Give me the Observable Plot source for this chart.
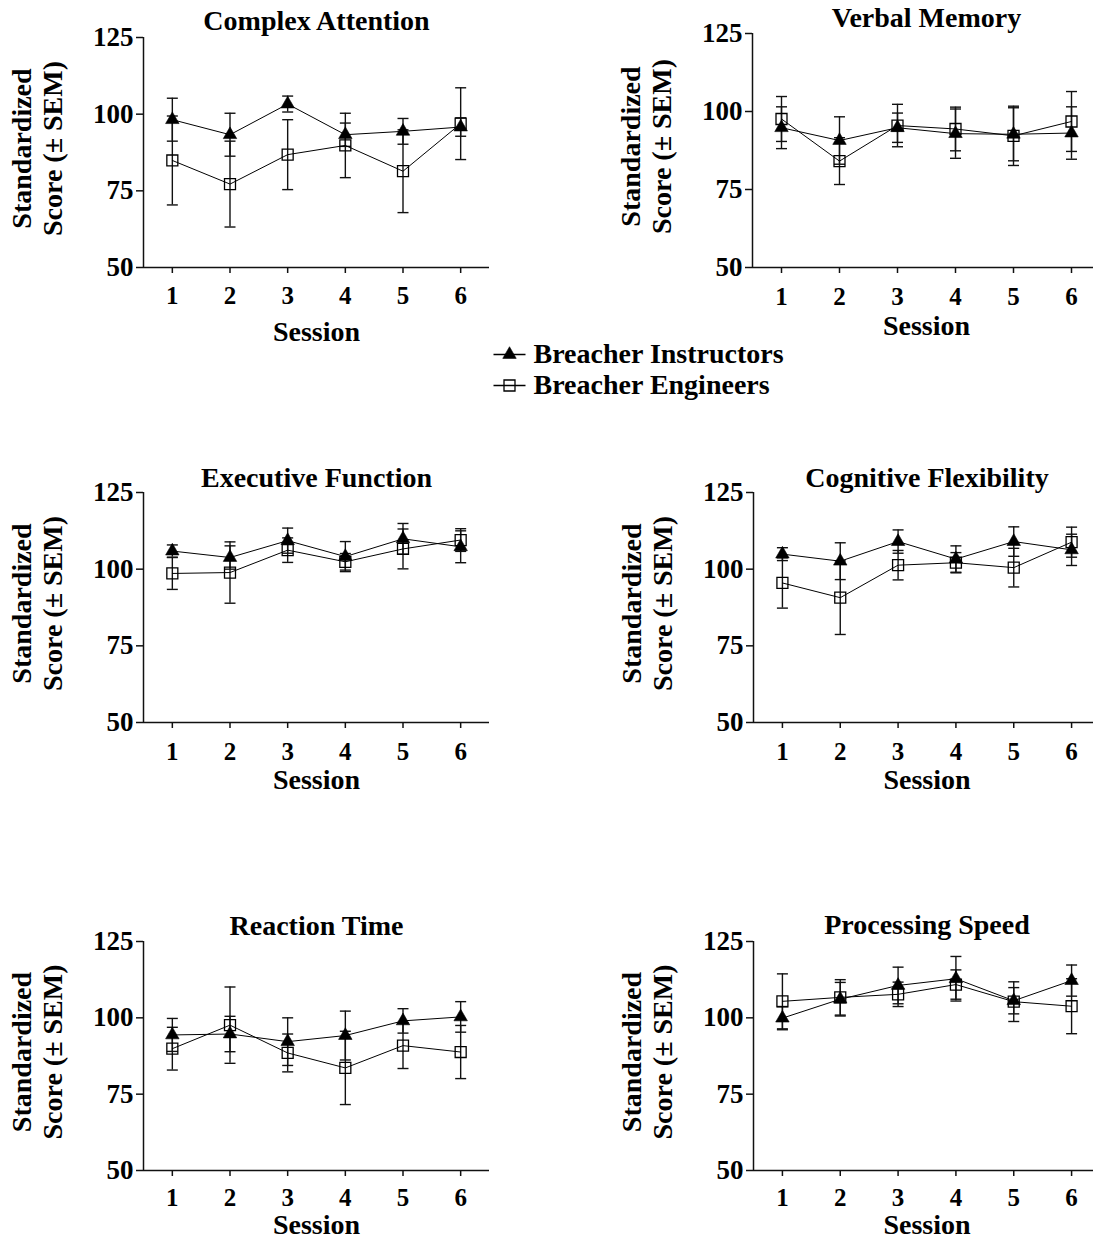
<!DOCTYPE html>
<html>
<head>
<meta charset="utf-8">
<script src="https://cdn.jsdelivr.net/npm/d3@7"></script>
<script src="https://cdn.jsdelivr.net/npm/@observablehq/plot@0.6"></script>
<style>
  html, body { margin: 0; padding: 0; background: white; overflow: hidden; }
  #page { position: relative; width: 1093px; height: 1241px; overflow: hidden; background: white; }
  #page > svg { position: absolute; }
</style>
</head>
<body>
<div id="page"></div>
<script>
// ---------------- data ----------------
const sessions = [1, 2, 3, 4, 5, 6];
const groups = ["Breacher Instructors", "Breacher Engineers"];
const panelTitles = ["Complex Attention", "Verbal Memory", "Executive Function",
                     "Cognitive Flexibility", "Reaction Time", "Processing Speed"];
const yTicks = [50, 75, 100, 125];
const yLabel = "Standardized\nScore (\u00B1 SEM)";
const xLabel = "Session";

// Complex Attention
const caInstMean = [98.2, 93.3, 103.3, 93.3, 94.4, 95.8];
const caInstSem  = [7.0, 7.0, 2.6, 3.8, 4.2, 3.0];
const caEngMean  = [84.9, 77.2, 86.8, 89.8, 81.4, 96.9];
const caEngSem   = [14.5, 14.0, 11.4, 10.5, 13.5, 11.7];
// Verbal Memory
const vmInstMean = [94.8, 90.7, 94.8, 92.9, 92.7, 93.1];
const vmInstSem  = [6.7, 7.6, 4.7, 7.9, 8.5, 8.4];
const vmEngMean  = [97.6, 84.1, 95.5, 94.4, 92.2, 96.8];
const vmEngSem   = [7.2, 7.5, 6.8, 7.0, 9.5, 9.6];
// Executive Function
const efInstMean = [105.9, 103.8, 109.3, 104.1, 109.9, 107.3];
const efInstSem  = [2.0, 3.8, 4.1, 4.9, 5.0, 5.2];
const efEngMean  = [98.6, 98.9, 106.2, 102.4, 106.6, 109.5];
const efEngSem   = [5.2, 10.0, 4.0, 2.7, 6.5, 3.7];
// Cognitive Flexibility
const cfInstMean = [104.9, 102.6, 109.0, 103.3, 109.0, 106.3];
const cfInstSem  = [2.1, 6.0, 3.8, 4.3, 4.8, 5.1];
const cfEngMean  = [95.5, 90.7, 101.3, 102.1, 100.5, 108.8];
const cfEngSem   = [8.2, 12.0, 4.8, 3.3, 6.3, 4.9];
// Reaction Time
const rtInstMean = [94.4, 94.7, 92.2, 94.2, 99.0, 100.3];
const rtInstSem  = [5.4, 5.8, 7.8, 8.0, 4.0, 5.0];
const rtEngMean  = [89.9, 97.6, 88.5, 83.6, 90.9, 88.8];
const rtEngSem   = [7.0, 12.5, 6.2, 12.0, 7.5, 8.7];
// Processing Speed
const psInstMean = [99.9, 106.1, 110.6, 112.8, 105.6, 112.2];
const psInstSem  = [3.8, 5.5, 6.0, 7.3, 4.3, 5.1];
const psEngMean  = [105.4, 106.7, 107.7, 110.9, 105.3, 103.8];
const psEngSem   = [9.0, 5.8, 4.0, 4.8, 6.5, 9.0];

const panelData = [
  [[caInstMean, caInstSem], [caEngMean, caEngSem]],
  [[vmInstMean, vmInstSem], [vmEngMean, vmEngSem]],
  [[efInstMean, efInstSem], [efEngMean, efEngSem]],
  [[cfInstMean, cfInstSem], [cfEngMean, cfEngSem]],
  [[rtInstMean, rtInstSem], [rtEngMean, rtEngSem]],
  [[psInstMean, psInstSem], [psEngMean, psEngSem]]
];

// ---------------- layout (page pixels) ----------------
const layout = [
  {left: 0,   axisX: 143, right: 489,  top: 37,  bottom: 267,  titleBase: 29,  tickBase: 303,  labelBase: 340},
  {left: 600, axisX: 752, right: 1100, top: 33,  bottom: 267,  titleBase: 26,  tickBase: 304,  labelBase: 334},
  {left: 0,   axisX: 143, right: 489,  top: 492, bottom: 722,  titleBase: 486, tickBase: 759,  labelBase: 788},
  {left: 600, axisX: 753, right: 1100, top: 492, bottom: 722,  titleBase: 486, tickBase: 759,  labelBase: 788},
  {left: 0,   axisX: 143, right: 489,  top: 941, bottom: 1170, titleBase: 934, tickBase: 1205, labelBase: 1233},
  {left: 600, axisX: 753, right: 1100, top: 941, bottom: 1170, titleBase: 933, tickBase: 1205, labelBase: 1233}
];

const FONT = "'Liberation Serif', 'Times New Roman', Times, serif";
const INK = "#111";
const hLine = (half) => ({
  draw(context) { context.moveTo(-half, 0); context.lineTo(half, 0); }
});
const capSym = hLine(5.5);

const page = document.getElementById("page");

panelTitles.forEach((title, p) => {
  const L = layout[p];
  const mt = 50, mb = 80, mr = 10;
  const rows = groups.flatMap((g, gi) => sessions.map((s, i) => ({
    group: g, session: s, mean: panelData[p][gi][0][i], sem: panelData[p][gi][1][i]
  })));
  const inst = rows.filter(d => d.group === groups[0]);
  const eng = rows.filter(d => d.group === groups[1]);
  const lo = d => d.mean - d.sem;
  const hi = d => d.mean + d.sem;
  const xFont = 25;

  const chart = Plot.plot({
    width: L.right - L.left + mr,
    height: mt + (L.bottom - L.top) + mb,
    marginLeft: L.axisX - L.left,
    marginRight: mr,
    marginTop: mt,
    marginBottom: mb,
    x: {domain: [0.5, 6.5]},
    y: {domain: [50, 125]},
    style: {fontFamily: FONT, fontWeight: "bold", fontSize: "26px", color: "black",
            background: "transparent", overflow: "visible"},
    marks: [
      Plot.axisY({ticks: yTicks, tickSize: 7, tickPadding: 3, fontSize: 27, fontWeight: "bold",
                  tickFormat: d => String(d), label: null, strokeWidth: 1.5, stroke: INK}),
      Plot.axisX({ticks: sessions, tickSize: 6, fontSize: xFont, fontWeight: "bold",
                  tickFormat: d => String(d),
                  tickPadding: L.tickBase - L.bottom - 6 - 0.71 * xFont,
                  label: null, strokeWidth: 1.5, stroke: INK}),
      Plot.ruleY([50], {stroke: INK, strokeWidth: 1.5}),
      Plot.ruleX([0.5], {stroke: INK, strokeWidth: 1.5}),
      Plot.ruleX(rows, {x: "session", y1: lo, y2: hi, stroke: INK, strokeWidth: 1.4}),
      Plot.dot(rows, {x: "session", y: lo, symbol: capSym, r: 1, fill: "none", stroke: INK, strokeWidth: 1.4}),
      Plot.dot(rows, {x: "session", y: hi, symbol: capSym, r: 1, fill: "none", stroke: INK, strokeWidth: 1.4}),
      Plot.line(rows, {x: "session", y: "mean", z: "group", stroke: "black", strokeWidth: 1}),
      Plot.dot(eng, {x: "session", y: "mean", symbol: "square", r: 6.2, fill: "none", stroke: "black", strokeWidth: 1.3}),
      Plot.dot(inst, {x: "session", y: "mean", symbol: "triangle", r: 5, fill: "black", stroke: "black", strokeWidth: 0.6}),
      Plot.text([title], {text: d => d, frameAnchor: "top", lineAnchor: "bottom",
                          dy: L.titleBase - L.top, fontSize: 28, fontWeight: "bold"}),
      Plot.text([xLabel], {text: d => d, frameAnchor: "bottom", lineAnchor: "bottom",
                           dy: L.labelBase - L.bottom, fontSize: 28, fontWeight: "bold"}),
      Plot.text([yLabel], {text: d => d, frameAnchor: "left", rotate: -90, textAnchor: "middle",
                           lineAnchor: "middle", lineHeight: 1.1, fontSize: 28, fontWeight: "bold",
                           dx: -106.5, dy: -4})
    ]
  });
  chart.style.left = L.left + "px";
  chart.style.top = (L.top - mt) + "px";
  page.appendChild(chart);
});

// ---------------- legend ----------------
const legend = Plot.plot({
  width: 330, height: 71,
  marginTop: 20, marginBottom: 20, marginLeft: 0, marginRight: 0,
  y: {type: "point", domain: groups, padding: 0, axis: null},
  style: {fontFamily: FONT, fontWeight: "bold", fontSize: "28px", color: "black",
          background: "transparent", overflow: "visible"},
  marks: [
    Plot.dot(groups, {y: d => d, frameAnchor: "left", dx: 29, symbol: hLine(16), r: 1,
                      fill: "none", stroke: "black", strokeWidth: 1.3}),
    Plot.dot([groups[0]], {y: d => d, frameAnchor: "left", dx: 29, symbol: "triangle", r: 5,
                           fill: "black", stroke: "black", strokeWidth: 0.6}),
    Plot.dot([groups[1]], {y: d => d, frameAnchor: "left", dx: 29, symbol: "square", r: 6.2,
                           fill: "none", stroke: "black", strokeWidth: 1.3}),
    Plot.text(groups, {y: d => d, text: d => d, frameAnchor: "left", dx: 53, textAnchor: "start",
                       lineAnchor: "middle", fontSize: 28, fontWeight: "bold"})
  ]
});
legend.style.left = "480px";
legend.style.top = "334px";
page.appendChild(legend);
</script>
</body>
</html>
